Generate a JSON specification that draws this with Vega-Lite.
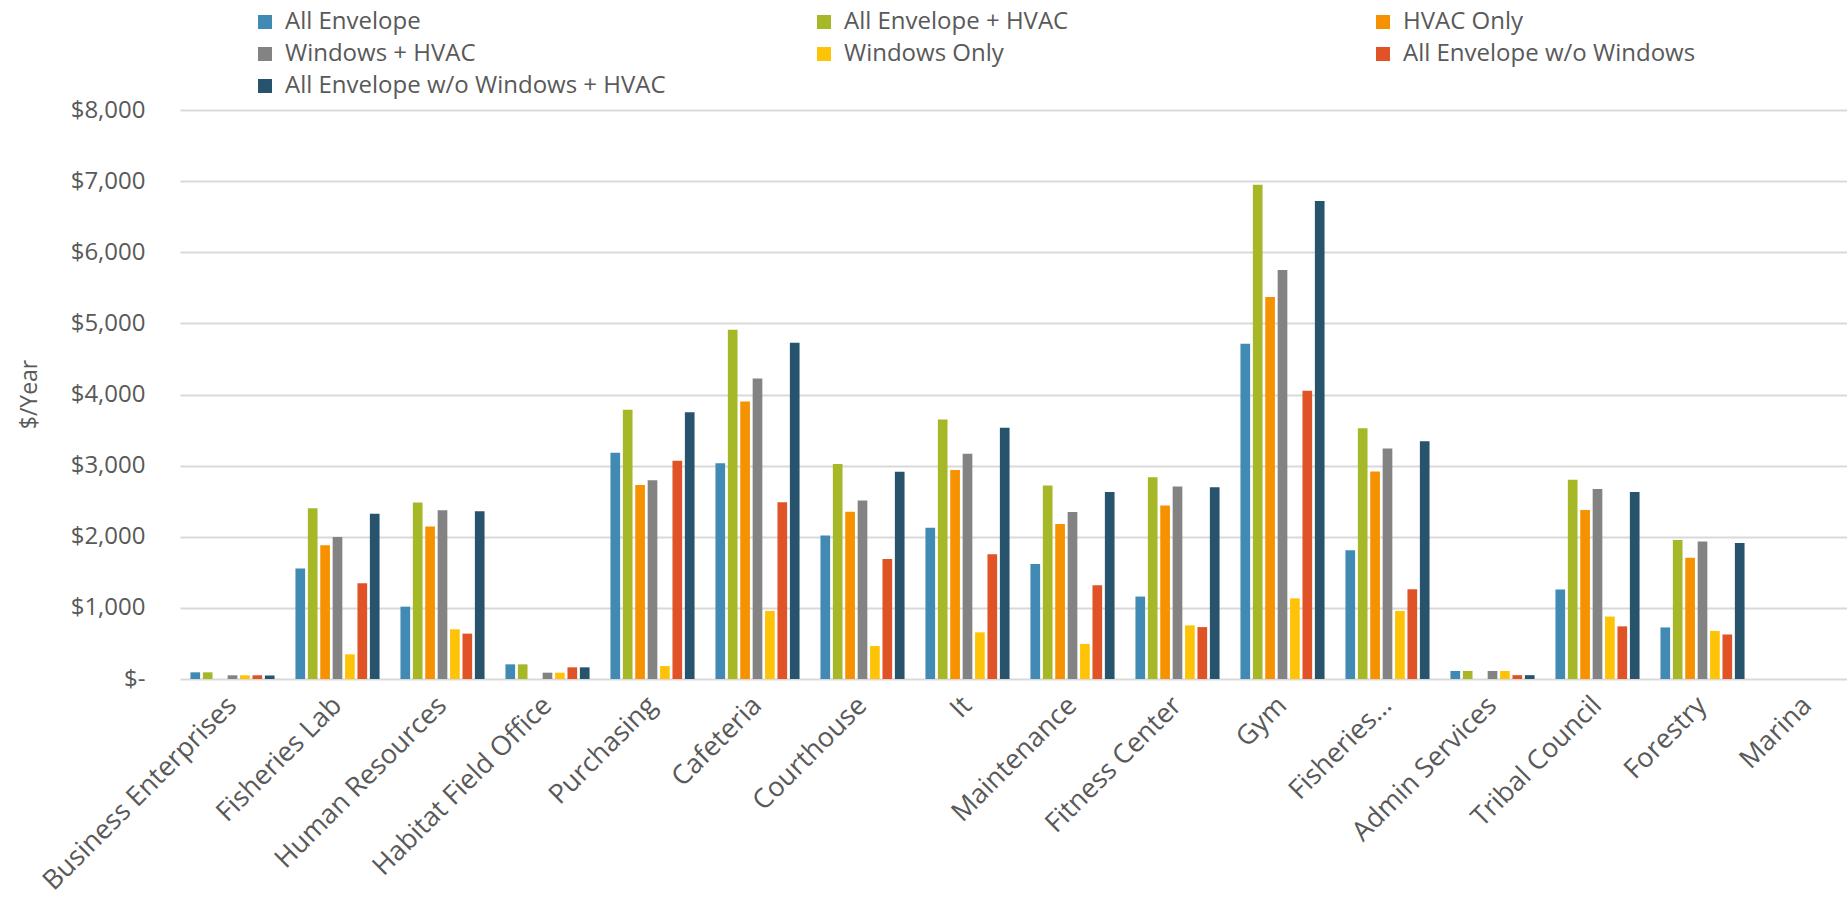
{
  "$schema": "https://vega.github.io/schema/vega-lite/v6.json",
  "width": 1667,
  "height": 569,
  "autosize": {"type": "none"},
  "padding": {"left": 180, "top": 110, "right": 0, "bottom": 219},
  "background": "white",
  "config": {
    "view": {"stroke": null},
    "font": "Open Sans"
  },
  "data": {
    "values": [
      {"building": "Business Enterprises", "scenario": "All Envelope", "cost": 94},
      {"building": "Business Enterprises", "scenario": "All Envelope + HVAC", "cost": 94},
      {"building": "Business Enterprises", "scenario": "Windows + HVAC", "cost": 52},
      {"building": "Business Enterprises", "scenario": "Windows Only", "cost": 52},
      {"building": "Business Enterprises", "scenario": "All Envelope w/o Windows", "cost": 52},
      {"building": "Business Enterprises", "scenario": "All Envelope w/o Windows + HVAC", "cost": 50},

      {"building": "Fisheries Lab", "scenario": "All Envelope", "cost": 1552},
      {"building": "Fisheries Lab", "scenario": "All Envelope + HVAC", "cost": 2400},
      {"building": "Fisheries Lab", "scenario": "HVAC Only", "cost": 1880},
      {"building": "Fisheries Lab", "scenario": "Windows + HVAC", "cost": 1997},
      {"building": "Fisheries Lab", "scenario": "Windows Only", "cost": 347},
      {"building": "Fisheries Lab", "scenario": "All Envelope w/o Windows", "cost": 1346},
      {"building": "Fisheries Lab", "scenario": "All Envelope w/o Windows + HVAC", "cost": 2325},

      {"building": "Human Resources", "scenario": "All Envelope", "cost": 1017},
      {"building": "Human Resources", "scenario": "All Envelope + HVAC", "cost": 2480},
      {"building": "Human Resources", "scenario": "HVAC Only", "cost": 2143},
      {"building": "Human Resources", "scenario": "Windows + HVAC", "cost": 2372},
      {"building": "Human Resources", "scenario": "Windows Only", "cost": 699},
      {"building": "Human Resources", "scenario": "All Envelope w/o Windows", "cost": 638},
      {"building": "Human Resources", "scenario": "All Envelope w/o Windows + HVAC", "cost": 2358},

      {"building": "Habitat Field Office", "scenario": "All Envelope", "cost": 206},
      {"building": "Habitat Field Office", "scenario": "All Envelope + HVAC", "cost": 206},
      {"building": "Habitat Field Office", "scenario": "Windows + HVAC", "cost": 89},
      {"building": "Habitat Field Office", "scenario": "Windows Only", "cost": 89},
      {"building": "Habitat Field Office", "scenario": "All Envelope w/o Windows", "cost": 164},
      {"building": "Habitat Field Office", "scenario": "All Envelope w/o Windows + HVAC", "cost": 164},

      {"building": "Purchasing", "scenario": "All Envelope", "cost": 3180},
      {"building": "Purchasing", "scenario": "All Envelope + HVAC", "cost": 3787},
      {"building": "Purchasing", "scenario": "HVAC Only", "cost": 2727},
      {"building": "Purchasing", "scenario": "Windows + HVAC", "cost": 2796},
      {"building": "Purchasing", "scenario": "Windows Only", "cost": 182},
      {"building": "Purchasing", "scenario": "All Envelope w/o Windows", "cost": 3067},
      {"building": "Purchasing", "scenario": "All Envelope w/o Windows + HVAC", "cost": 3752},

      {"building": "Cafeteria", "scenario": "All Envelope", "cost": 3033},
      {"building": "Cafeteria", "scenario": "All Envelope + HVAC", "cost": 4911},
      {"building": "Cafeteria", "scenario": "HVAC Only", "cost": 3900},
      {"building": "Cafeteria", "scenario": "Windows + HVAC", "cost": 4226},
      {"building": "Cafeteria", "scenario": "Windows Only", "cost": 957},
      {"building": "Cafeteria", "scenario": "All Envelope w/o Windows", "cost": 2485},
      {"building": "Cafeteria", "scenario": "All Envelope w/o Windows + HVAC", "cost": 4729},

      {"building": "Courthouse", "scenario": "All Envelope", "cost": 2017},
      {"building": "Courthouse", "scenario": "All Envelope + HVAC", "cost": 3023},
      {"building": "Courthouse", "scenario": "HVAC Only", "cost": 2352},
      {"building": "Courthouse", "scenario": "Windows + HVAC", "cost": 2510},
      {"building": "Courthouse", "scenario": "Windows Only", "cost": 464},
      {"building": "Courthouse", "scenario": "All Envelope w/o Windows", "cost": 1686},
      {"building": "Courthouse", "scenario": "All Envelope w/o Windows + HVAC", "cost": 2914},

      {"building": "It", "scenario": "All Envelope", "cost": 2125},
      {"building": "It", "scenario": "All Envelope + HVAC", "cost": 3649},
      {"building": "It", "scenario": "HVAC Only", "cost": 2939},
      {"building": "It", "scenario": "Windows + HVAC", "cost": 3166},
      {"building": "It", "scenario": "Windows Only", "cost": 656},
      {"building": "It", "scenario": "All Envelope w/o Windows", "cost": 1755},
      {"building": "It", "scenario": "All Envelope w/o Windows + HVAC", "cost": 3531},

      {"building": "Maintenance", "scenario": "All Envelope", "cost": 1617},
      {"building": "Maintenance", "scenario": "All Envelope + HVAC", "cost": 2722},
      {"building": "Maintenance", "scenario": "HVAC Only", "cost": 2179},
      {"building": "Maintenance", "scenario": "Windows + HVAC", "cost": 2347},
      {"building": "Maintenance", "scenario": "Windows Only", "cost": 493},
      {"building": "Maintenance", "scenario": "All Envelope w/o Windows", "cost": 1317},
      {"building": "Maintenance", "scenario": "All Envelope w/o Windows + HVAC", "cost": 2628},

      {"building": "Fitness Center", "scenario": "All Envelope", "cost": 1159},
      {"building": "Fitness Center", "scenario": "All Envelope + HVAC", "cost": 2835},
      {"building": "Fitness Center", "scenario": "HVAC Only", "cost": 2441},
      {"building": "Fitness Center", "scenario": "Windows + HVAC", "cost": 2707},
      {"building": "Fitness Center", "scenario": "Windows Only", "cost": 754},
      {"building": "Fitness Center", "scenario": "All Envelope w/o Windows", "cost": 730},
      {"building": "Fitness Center", "scenario": "All Envelope w/o Windows + HVAC", "cost": 2697},

      {"building": "Gym", "scenario": "All Envelope", "cost": 4714},
      {"building": "Gym", "scenario": "All Envelope + HVAC", "cost": 6948},
      {"building": "Gym", "scenario": "HVAC Only", "cost": 5370},
      {"building": "Gym", "scenario": "Windows + HVAC", "cost": 5750},
      {"building": "Gym", "scenario": "Windows Only", "cost": 1134},
      {"building": "Gym", "scenario": "All Envelope w/o Windows", "cost": 4053},
      {"building": "Gym", "scenario": "All Envelope w/o Windows + HVAC", "cost": 6721},

      {"building": "Fisheries…", "scenario": "All Envelope", "cost": 1810},
      {"building": "Fisheries…", "scenario": "All Envelope + HVAC", "cost": 3526},
      {"building": "Fisheries…", "scenario": "HVAC Only", "cost": 2919},
      {"building": "Fisheries…", "scenario": "Windows + HVAC", "cost": 3240},
      {"building": "Fisheries…", "scenario": "Windows Only", "cost": 957},
      {"building": "Fisheries…", "scenario": "All Envelope w/o Windows", "cost": 1262},
      {"building": "Fisheries…", "scenario": "All Envelope w/o Windows + HVAC", "cost": 3343},

      {"building": "Admin Services", "scenario": "All Envelope", "cost": 113},
      {"building": "Admin Services", "scenario": "All Envelope + HVAC", "cost": 113},
      {"building": "Admin Services", "scenario": "Windows + HVAC", "cost": 113},
      {"building": "Admin Services", "scenario": "Windows Only", "cost": 113},
      {"building": "Admin Services", "scenario": "All Envelope w/o Windows", "cost": 54},
      {"building": "Admin Services", "scenario": "All Envelope w/o Windows + HVAC", "cost": 54},

      {"building": "Tribal Council", "scenario": "All Envelope", "cost": 1257},
      {"building": "Tribal Council", "scenario": "All Envelope + HVAC", "cost": 2801},
      {"building": "Tribal Council", "scenario": "HVAC Only", "cost": 2377},
      {"building": "Tribal Council", "scenario": "Windows + HVAC", "cost": 2673},
      {"building": "Tribal Council", "scenario": "Windows Only", "cost": 878},
      {"building": "Tribal Council", "scenario": "All Envelope w/o Windows", "cost": 740},
      {"building": "Tribal Council", "scenario": "All Envelope w/o Windows + HVAC", "cost": 2628},

      {"building": "Forestry", "scenario": "All Envelope", "cost": 725},
      {"building": "Forestry", "scenario": "All Envelope + HVAC", "cost": 1953},
      {"building": "Forestry", "scenario": "HVAC Only", "cost": 1706},
      {"building": "Forestry", "scenario": "Windows + HVAC", "cost": 1933},
      {"building": "Forestry", "scenario": "Windows Only", "cost": 676},
      {"building": "Forestry", "scenario": "All Envelope w/o Windows", "cost": 626},
      {"building": "Forestry", "scenario": "All Envelope w/o Windows + HVAC", "cost": 1913}
    ]
  },
  "mark": {"type": "bar"},
  "encoding": {
    "x": {
      "field": "building",
      "type": "nominal",
      "sort": null,
      "scale": {
        "domain": ["Business Enterprises", "Fisheries Lab", "Human Resources", "Habitat Field Office", "Purchasing", "Cafeteria", "Courthouse", "It", "Maintenance", "Fitness Center", "Gym", "Fisheries…", "Admin Services", "Tribal Council", "Forestry", "Marina"],
        "range": [0, 1680],
        "paddingInner": 0.173,
        "paddingOuter": 0.0865
      },
      "axis": {
        "title": null,
        "domain": false,
        "ticks": false,
        "labelAngle": -45,
        "labelAlign": "right",
        "labelBaseline": "middle",
        "labelPadding": 22,
        "labelFont": "Open Sans",
        "labelFontSize": 27,
        "labelColor": "#595959",
        "labelLimit": 500,
        "labelOverlap": false
      }
    },
    "xOffset": {
      "field": "scenario",
      "scale": {
        "domain": ["All Envelope", "All Envelope + HVAC", "HVAC Only", "Windows + HVAC", "Windows Only", "All Envelope w/o Windows", "All Envelope w/o Windows + HVAC"],
        "paddingInner": 0.22,
        "paddingOuter": 0.11
      }
    },
    "y": {
      "field": "cost",
      "type": "quantitative",
      "scale": {"domain": [0, 8000], "nice": false},
      "axis": {
        "values": [0, 1000, 2000, 3000, 4000, 5000, 6000, 7000, 8000],
        "labelExpr": "datum.value === 0 ? '$-' : '$' + format(datum.value, ',')",
        "labelFont": "Open Sans",
        "labelFontSize": 24,
        "labelColor": "#595959",
        "labelPadding": 35,
        "ticks": false,
        "domain": false,
        "grid": true,
        "gridColor": "#d9d9d9",
        "gridWidth": 2,
        "title": "$/Year",
        "titleFont": "Open Sans",
        "titleFontSize": 23,
        "titleFontWeight": "normal",
        "titleColor": "#595959",
        "titleAngle": -90,
        "titleAlign": "center",
        "titleBaseline": "middle",
        "titleX": -151,
        "titleY": 284
      }
    },
    "color": {
      "field": "scenario",
      "type": "nominal",
      "scale": {
        "domain": ["All Envelope", "All Envelope + HVAC", "HVAC Only", "Windows + HVAC", "Windows Only", "All Envelope w/o Windows", "All Envelope w/o Windows + HVAC"],
        "range": ["#418AB3", "#A6B727", "#F69200", "#838383", "#FEC306", "#DF5327", "#27546C"]
      },
      "legend": {
        "title": null,
        "orient": "none",
        "legendX": 73,
        "legendY": -100,
        "direction": "horizontal",
        "columns": 3,
        "gridAlign": "all",
        "columnPadding": 146,
        "rowPadding": 8,
        "padding": 0,
        "symbolType": "square",
        "symbolSize": 196,
        "symbolStrokeWidth": 0,
        "symbolOpacity": 1,
        "labelFont": "Open Sans",
        "labelFontSize": 24,
        "labelColor": "#595959",
        "labelOffset": 8,
        "labelLimit": 600
      }
    }
  }
}
